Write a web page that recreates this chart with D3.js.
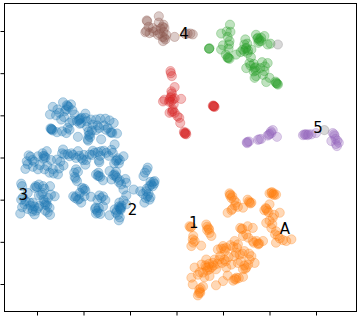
<!DOCTYPE html>
<html>
<head>
<meta charset="utf-8">
<script src="https://cdn.jsdelivr.net/npm/d3@7"></script>
<style>
html, body { margin: 0; padding: 0; background: #fff; }
svg { display: block; }
</style>
</head>
<body>
<div id="chart"></div>
<script>
// [x, y], tick step is 10 on both axes
var blue = [[-24.4,13.1],[-23.4,12.2],[-22.7,12.6],[-26.6,12.0],[-27.2,10.2],[-23.7,11.4],[-25.2,10.6],[-24.8,9.0],[-25.9,10.0],[-23.0,8.2],[-21.9,10.2],[-20.9,9.0],[-19.6,10.4],[-20.5,8.2],[-21.4,8.6],[-19.3,8.6],[-17.3,9.0],[-15.3,9.2],[-13.5,8.2],[-26.9,6.6],[-26.9,6.8],[-25.7,6.0],[-23.7,5.8],[-23.0,6.6],[-21.2,4.9],[-18.9,6.2],[-19.1,4.3],[-18.6,5.5],[-17.3,6.5],[-16.2,4.3],[-14.0,6.0],[-13.8,5.8],[-12.8,5.7],[-14.8,7.0],[-16.6,7.0],[-18.0,7.8],
  [-23.2,12.0],[-23.6,12.4],[-24.0,11.0],[-25.6,11.4],[-22.4,11.2],[-24.2,9.6],[-21.0,8.8],[-20.7,9.2],[-20.4,9.4],[-20.8,8.0],[-22.4,8.8],[-18.4,9.0],[-16.4,9.2],[-14.4,8.8],[-26.8,6.7],[-26.6,6.4],[-27.1,6.9],[-24.6,6.2],[-23.4,7.0],[-18.9,5.2],[-18.6,4.8],[-19.0,4.0],[-18.2,6.4],[-19.2,7.2],[-15.2,6.6],[-14.2,5.9],[-15.6,7.6],[-17.0,7.6],[-19.6,9.4],
  [-31.8,0.5],[-32.2,-0.9],[-32.5,-2.7],[-30.9,-2.2],[-29.8,0.3],[-28.4,0.3],[-27.9,1.5],[-28.6,-0.3],[-25.7,-0.5],[-24.4,1.9],[-24.1,0.7],[-23.0,0.3],[-21.2,1.5],[-21.6,-0.1],[-20.1,-0.6],[-19.6,-1.7],[-24.3,-1.9],[-25.5,-4.0],[-27.3,-3.6],[-28.4,-2.8],[-29.8,-2.8],[-18.7,0.7],[-17.6,1.1],[-16.6,-1.1],[-15.1,1.1],[-16.2,1.5],[-13.3,3.1],[-13.7,1.1],[-12.8,-0.6],[-11.4,0.3],[-12.4,-1.4],[-21.6,-2.8],[-21.9,-4.6],[-21.4,-5.6],[-16.7,-4.3],[-17.3,-4.0],[-13.3,-4.0],[-14.4,-3.2],[-12.8,-4.8],[-11.0,-5.1],[-11.9,-6.4],[-11.4,-7.6],[-10.8,-9.0],
  [-31.4,0.2],[-31.0,-0.6],[-32.0,-1.6],[-30.6,-1.0],[-29.4,-1.8],[-28.6,0.4],[-28.2,0.0],[-28.8,1.0],[-27.0,-0.6],[-27.8,-2.0],[-26.6,-2.8],[-25.0,-1.0],[-25.2,-2.6],[-26.4,-3.8],[-24.6,1.0],[-23.4,0.8],[-22.6,1.0],[-22.2,0.6],[-20.9,0.4],[-20.4,-0.2],[-19.4,-0.6],[-19.9,0.6],[-18.2,0.6],[-18.0,1.6],[-16.9,1.3],[-16.4,0.4],[-16.7,-0.7],[-15.6,1.6],[-14.6,0.4],[-14.0,1.8],[-13.0,-0.8],[-12.6,-0.2],[-12.2,-0.6],[-13.4,-1.4],[-21.2,-3.4],[-22.0,-3.6],[-21.7,-5.0],[-16.9,-4.4],[-16.4,-4.6],[-16.8,-3.6],[-15.8,-5.4],[-13.6,-4.2],[-13.1,-4.4],[-13.0,-3.4],[-14.0,-5.2],[-12.2,-5.4],[-12.4,-5.8],[-10.8,-6.0],
  [-33.4,-6.2],[-30.3,-6.8],[-30.5,-7.2],[-28.7,-6.8],[-27.2,-6.8],[-29.1,-8.8],[-26.2,-9.2],[-27.0,-8.8],[-28.0,-10.7],[-28.4,-10.6],[-33.4,-10.0],[-32.7,-11.1],[-31.6,-10.7],[-30.9,-12.3],[-30.5,-13.5],[-33.6,-13.3],[-27.7,-13.0],[-27.3,-11.9],[-32.0,-8.4],[-29.5,-11.5],[-30.9,-10.7],
  [-33.2,-6.8],[-30.0,-7.0],[-29.6,-6.4],[-28.4,-7.4],[-28.8,-8.4],[-29.6,-9.0],[-27.6,-9.6],[-28.6,-10.0],[-28.2,-11.2],[-27.8,-11.4],[-33.0,-9.4],[-32.4,-10.4],[-31.4,-11.4],[-31.0,-12.8],[-30.6,-11.6],[-30.2,-12.6],[-29.8,-12.0],[-32.0,-12.2],[-33.2,-11.8],[-28.2,-12.6],[-27.2,-13.6],
  [-20.1,-7.6],[-19.8,-7.4],[-22.2,-9.2],[-21.2,-10.0],[-20.5,-10.7],[-16.6,-9.0],[-15.3,-10.1],[-18.4,-9.3],[-17.4,-11.9],[-16.9,-13.1],[-17.3,-13.3],[-14.4,-13.7],[-12.3,-10.7],[-12.1,-12.2],[-11.9,-11.9],[-13.0,-13.1],[-12.4,-14.9],[-13.3,-12.3],[-10.8,-11.1],[-9.2,-7.6],
  [-20.3,-7.2],[-19.6,-7.9],[-20.8,-8.4],[-21.8,-9.6],[-21.6,-9.2],[-20.9,-9.8],[-19.8,-9.2],[-16.2,-9.6],[-15.8,-9.2],[-17.0,-10.0],[-17.5,-12.2],[-17.1,-12.6],[-16.7,-12.0],[-16.4,-13.4],[-15.8,-11.6],[-12.4,-11.6],[-12.2,-11.9],[-12.0,-12.4],[-11.8,-11.4],[-12.8,-12.6],[-12.6,-13.6],[-12.2,-14.2],[-11.4,-10.2],
  [-6.2,-2.4],[-7.1,-4.4],[-4.7,-5.6],[-5.4,-6.4],[-6.5,-8.0],[-7.8,-8.0],[-5.8,-10.0],[-6.9,-10.7],[-6.2,-9.2],[-5.1,-6.8],
  [-6.4,-3.0],[-6.8,-3.6],[-5.0,-5.8],[-5.6,-5.8],[-5.8,-6.8],[-6.4,-7.4],[-6.0,-8.6],[-5.6,-9.4],[-6.6,-9.6],[-7.2,-8.6],[-4.8,-6.2]];

var orange = [[11.4,-8.5],[11.8,-9.6],[12.8,-10.7],[11.5,-9.0],[11.0,-13.1],[11.8,-12.5],[13.2,-11.7],[14.3,-11.9],[15.7,-10.7],[16.1,-10.7],[15.3,-10.0],[20.4,-8.4],[21.4,-8.8],[20.9,-8.5],[20.0,-8.5],[19.3,-12.2],[18.9,-12.5],[20.0,-11.1],[22.2,-13.1],[20.7,-14.3],[19.3,-15.5],[20.4,-16.7],[21.4,-17.5],[21.8,-18.6],[21.4,-20.2],[22.9,-19.6],[24.7,-19.4],[23.6,-19.8],
  [11.6,-8.8],[12.0,-9.2],[12.4,-10.2],[12.6,-11.4],[12.0,-12.2],[15.6,-10.4],[15.9,-10.9],[20.7,-8.7],[21.0,-8.9],[20.5,-8.2],[19.2,-12.0],[19.5,-12.6],[19.8,-13.0],[21.0,-13.6],[20.0,-15.0],[20.6,-15.8],[21.2,-18.2],[22.2,-19.2],
  [2.8,-16.3],[3.2,-16.4],[6.4,-15.9],[7.0,-17.1],[7.1,-17.9],[7.5,-18.6],[3.5,-19.4],[3.9,-19.8],[3.2,-21.0],[5.3,-20.9],
  [6.6,-16.4],[6.9,-16.8],[6.6,-17.2],[3.0,-16.6],[3.6,-18.6],[3.6,-20.2],
  [13.7,-16.7],[15.3,-16.3],[16.4,-16.7],[14.3,-18.6],[16.4,-19.8],[17.5,-20.4],[17.8,-20.4],[18.6,-19.8],[10.0,-21.0],[8.9,-21.8],[10.7,-21.4],[12.5,-19.8],[13.2,-20.6],[12.8,-22.6],[14.6,-22.2],[16.1,-23.4],[16.8,-25.0],[15.7,-24.2],[15.0,-26.1],[14.3,-26.5],[13.2,-25.0],
  [14.0,-17.0],[14.2,-16.9],[15.0,-18.2],[15.4,-19.0],[16.6,-20.2],[17.2,-19.8],[17.6,-20.6],[9.6,-21.6],[10.2,-21.6],[10.4,-22.2],[11.6,-20.8],[12.2,-21.2],[13.0,-21.4],[12.4,-23.4],[13.6,-23.0],[14.2,-22.8],[11.2,-23.6],[15.6,-22.8],[14.6,-25.6],[14.8,-26.4],[15.4,-25.4],[13.8,-24.6],
  [10.3,-24.2],[9.2,-24.2],[7.8,-25.0],[6.4,-24.2],[3.9,-26.1],[6.4,-26.1],[7.1,-26.5],[8.5,-26.5],[5.7,-27.3],[7.1,-28.1],[10.7,-26.1],[11.8,-25.4],[3.2,-28.5],[3.5,-30.1],[5.7,-30.6],[4.9,-31.3],[4.6,-32.7],[5.1,-32.1],[8.5,-30.3],[10.0,-29.3],[12.5,-28.8],[12.8,-28.9],[14.3,-28.3],
  [10.6,-24.6],[9.8,-25.0],[9.4,-23.4],[8.2,-24.2],[7.0,-25.2],[6.2,-25.6],[5.4,-25.4],[6.8,-26.0],[6.6,-26.8],[5.0,-27.2],[4.6,-27.8],[6.0,-28.4],[8.0,-25.6],[7.6,-26.0],[8.8,-25.2],[12.9,-28.5],[12.2,-29.2],[13.4,-28.6],[5.2,-31.0],[5.0,-31.8],[4.8,-32.2],[11.0,-28.0]];

var green = [[11.5,31.5],[9.6,29.4],[10.8,29.9],[11.4,27.6],[11.3,26.8],[7.0,25.8],[7.0,25.8],[9.6,25.6],[11.0,23.6],[11.4,23.4],[14.8,28.0],[15.0,26.0],[14.6,25.2],[17.1,29.1],[17.8,28.0],[18.9,28.8],[19.6,26.8],[16.1,25.6],[15.7,22.4],[15.0,21.2],[19.6,22.4],[16.8,21.2],[17.1,19.3],[18.9,20.5],[19.3,17.9],[21.4,17.7],[21.8,17.3],[20.0,18.9],[12.8,24.4],[16.8,18.9],[14.3,25.6],[15.3,24.8],[17.5,28.4],[18.2,27.6],
  [7.1,25.9],[11.0,28.6],[11.6,29.8],[11.2,25.8],[11.0,23.8],[11.2,23.6],[10.6,24.4],[10.0,26.6],[14.6,26.8],[15.2,27.0],[15.4,25.4],[14.9,25.8],[13.8,25.0],[16.0,23.8],[17.4,28.2],[17.8,27.6],[18.2,28.4],[17.6,27.2],[20.2,27.0],[15.9,21.8],[16.6,22.2],[17.0,21.4],[17.0,20.6],[18.0,21.2],[19.0,21.6],[18.6,19.6],[16.6,20.4],[21.5,17.6],[21.7,17.5],[21.3,18.0],[18.4,22.6]];

var red = [[-1.3,20.5],[-1.0,19.3],[-0.4,16.7],[-1.1,15.7],[-2.9,13.3],[-1.5,13.7],[-1.1,14.5],[1.0,13.9],[-0.8,11.0],[-1.5,10.6],[0.6,9.4],[0.8,8.2],[1.7,5.8],[2.1,5.5],[1.9,5.7],[8.0,12.3],[8.2,12.0],[7.8,12.3],[-0.8,13.7],[-2.6,13.7],[-0.4,10.6],
  [-1.2,20.0],[-1.0,15.2],[-1.3,14.2],[-1.6,13.2],[-1.2,13.2],[-0.4,14.0],[-0.6,12.6],[-0.8,11.4],[-1.0,10.8],[1.8,5.6],[2.0,5.9],[1.6,6.1],[8.0,12.2],[8.1,12.1],[7.9,12.1],[0.2,9.8]];

var purple = [[15.1,3.6],[15.6,3.8],[17.8,4.3],[18.2,4.4],[19.6,5.2],[20.7,6.5],[20.4,5.8],[21.6,4.9],[27.9,5.5],[28.2,5.3],[27.2,5.3],[30.0,5.8],[33.6,5.8],[34.0,5.1],[33.3,3.9],[34.9,3.5],[34.5,2.7],
  [15.3,3.7],[17.5,4.2],[19.9,5.4],[20.3,6.2],[20.0,5.6],[27.7,5.4],[27.5,5.5],[28.4,5.5],[29.0,5.5],[33.9,5.5],[34.6,4.0],[34.3,3.2],[34.2,4.4],[15.2,3.4]];

var brown = [[-6.4,32.5],[-6.7,29.7],[-3.8,33.5],[-2.8,31.5],[-2.6,30.7],[-5.1,30.7],[-5.8,29.5],[-4.0,29.1],[-2.9,27.6],[-2.6,28.4],[-0.4,28.6],[2.4,29.4],[3.5,29.2],[-2.2,29.1],
  [-6.3,32.3],[-6.5,30.0],[-3.0,31.0],[-3.4,30.6],[-4.4,30.2],[-3.6,29.4],[-3.0,28.6],[-2.4,28.0],[-5.0,29.8],[-3.8,32.0],[-2.8,29.8],[-6.0,31.0],[1.9,29.3],[3.0,29.4]];

var gray = [[21.8,26.8],[31.8,6.5]];

var seriesNames = ["blue", "orange", "green", "red", "purple", "brown", "gray"];
var seriesValues = [blue, orange, green, red, purple, brown, gray];
var seriesColors = ["#1f77b4", "#ff7f0e", "#2ca02c", "#d62728", "#9467bd", "#8c564b", "#7f7f7f"];

var labelTexts = ["1", "2", "3", "4", "5", "A"];
var labelX = [2.7, -10.5, -34, 0.6, 29.4, 22.2];
var labelY = [-16.8, -13.7, -10, 28, 5.7, -18.2];

var tickValues = [-30, -20, -10, 0, 10, 20, 30];

var width = 361,
    height = 316,
    left = 4.5,
    right = 356.5,
    top_ = 3.5,
    bottom = 311.5,
    radius = 4.6;

var xScale = d3.scaleLinear().domain([-30, 30]).range([37, 316]);
var yScale = d3.scaleLinear().domain([-30, 30]).range([284, 31]);

var svg = d3.select("#chart").append("svg")
    .attr("width", width)
    .attr("height", height);

seriesValues.forEach(function(values, i) {
    svg.append("g")
        .attr("class", seriesNames[i])
        .selectAll("circle")
        .data(values)
        .enter()
        .append("circle")
        .attr("cx", function(d) { return xScale(d[0]); })
        .attr("cy", function(d) { return yScale(d[1]); })
        .attr("r", radius)
        .attr("fill", seriesColors[i])
        .attr("fill-opacity", 0.3)
        .attr("stroke", seriesColors[i])
        .attr("stroke-opacity", 0.3)
        .attr("stroke-width", 1);
});

svg.append("g")
    .selectAll("text")
    .data(labelTexts)
    .enter()
    .append("text")
    .attr("x", function(d, i) { return xScale(labelX[i]); })
    .attr("y", function(d, i) { return yScale(labelY[i]); })
    .attr("font-family", "DejaVu Sans")
    .attr("font-size", 15)
    .attr("fill", "#000")
    .text(function(d) { return d; });

// frame
svg.append("rect")
    .attr("x", left)
    .attr("y", top_)
    .attr("width", right - left)
    .attr("height", bottom - top_)
    .attr("fill", "none")
    .attr("stroke", "#000")
    .attr("stroke-width", 1);

var xAxis = d3.axisBottom(xScale).tickValues(tickValues).tickSize(4).tickFormat("");
var yAxis = d3.axisLeft(yScale).tickValues(tickValues).tickSize(4).tickFormat("");

svg.append("g").attr("transform", "translate(0," + bottom + ")").call(xAxis)
    .call(function(g) { g.select(".domain").remove(); });
svg.append("g").attr("transform", "translate(" + left + ",0)").call(yAxis)
    .call(function(g) { g.select(".domain").remove(); });
</script>
</body>
</html>
